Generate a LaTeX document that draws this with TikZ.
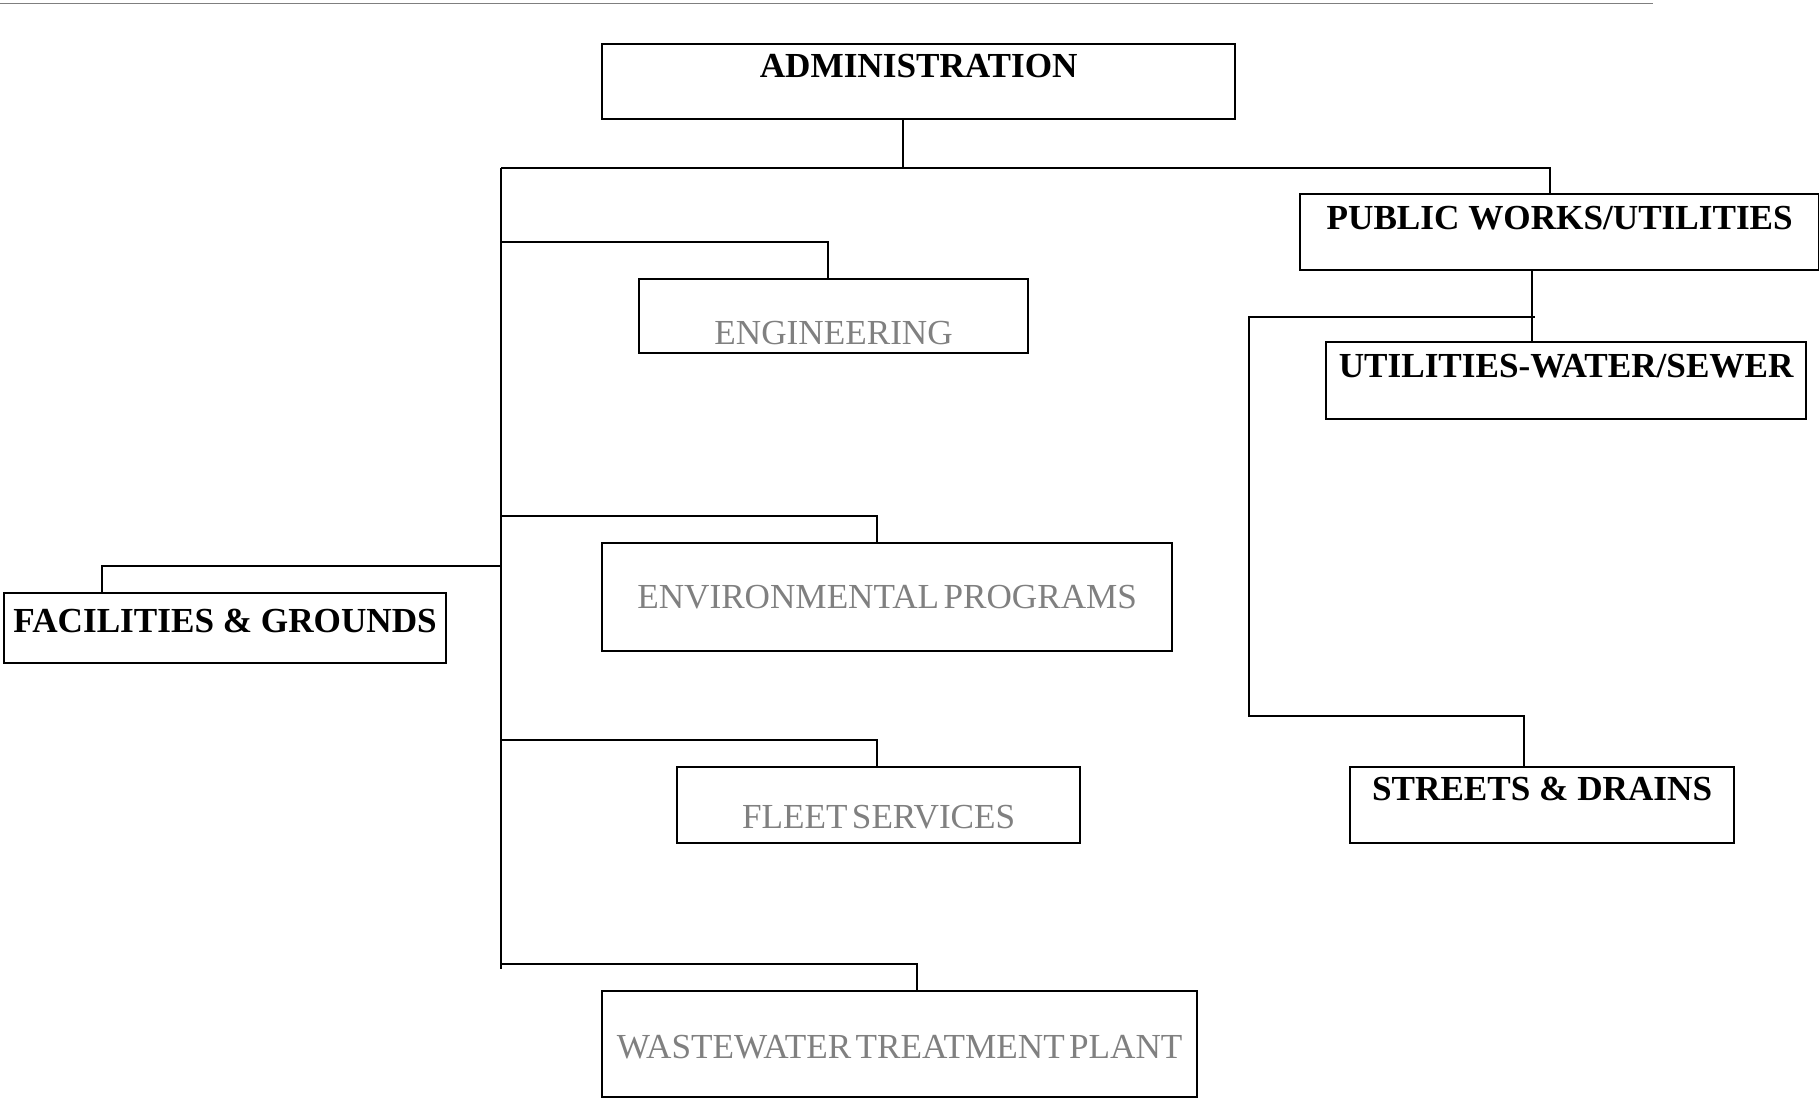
\documentclass[tikz,border=0pt]{standalone}
\usepackage{fontspec}
\setmainfont{Liberation Serif}
\newfontfamily\deptfont[WordSpace=0.5]{Liberation Serif}
\usetikzlibrary{calc}
\definecolor{deptgray}{HTML}{808080}
\definecolor{rulegray}{HTML}{7F7F7F}
\tikzset{
  unit/.style={draw, line width=0.02cm, inner sep=0pt, anchor=north west,
    font=\fontsize{10}{12}\selectfont\bfseries},
  subunit/.style={unit, text=deptgray,
    font=\deptfont\fontsize{10}{12}\selectfont},
  boxsize/.style n args={3}{minimum width=#1cm, text height=#2cm, text depth=#3cm},
  link/.style={line width=0.02cm}
}
\begin{document}
\begin{tikzpicture}[x=0.01cm, y=-0.01cm]
\useasboundingbox (0,0) rectangle (1819,1099);
\def\trunkx{501}
\draw[rulegray, line width=0.012cm] (0,3.5) -- (1653,3.5);
\node[unit, boxsize={6.33}{0.33}{0.42}] (admin) at (601,43) {ADMINISTRATION};
\node[unit, boxsize={5.19}{0.35}{0.41}] (pubworks) at (1299,193) {PUBLIC WORKS/UTILITIES};
\node[unit, boxsize={4.80}{0.35}{0.42}] (watersewer) at (1325,341) {UTILITIES-WATER/SEWER};
\node[unit, boxsize={3.84}{0.33}{0.43}] (streets) at (1349,766) {STREETS \& DRAINS};
\node[unit, boxsize={4.42}{0.39}{0.31}] (facilities) at (3,592) {FACILITIES \& GROUNDS};
\node[subunit, boxsize={3.89}{0.65}{0.09}] (engineering) at (638,278) {ENGINEERING};
\node[subunit, boxsize={5.70}{0.65}{0.43}] (environmental) at (601,542) {ENVIRONMENTAL PROGRAMS};
\node[subunit, boxsize={4.03}{0.61}{0.15}] (fleet) at (676,766) {FLEET SERVICES};
\node[subunit, boxsize={5.95}{0.67}{0.39}] (wastewater) at (601,990) {WASTEWATER TREATMENT PLANT};
\coordinate (busL) at (\trunkx,168);
\coordinate (trunkend) at (\trunkx,969);
\coordinate (streetsbend) at (1249,716);
\draw[link] ($(admin.south)+(-16,0)$) |- (busL);
\draw[link] (busL) -| ($(pubworks.north)+(-10,0)$);
\draw[link] (busL) -- (trunkend);
\foreach \n/\y/\dx in {engineering/242/-6, environmental/516/-10, fleet/740/-2, wastewater/964/17}
  \draw[link] (busL |- 0,\y) -| ($(\n.north)+(\dx,0)$);
\draw[link] (busL |- 0,566) -| ($(facilities.north)+(-123,0)$);
\draw[link] ($(pubworks.south)+(-28,0)$) coordinate (pwdrop) -- (pwdrop |- watersewer.north);
\draw[link] ($(pwdrop |- 0,317)+(3,0)$) -| (streetsbend) -| ($(streets.north)+(-18,0)$);
\end{tikzpicture}
\end{document}
